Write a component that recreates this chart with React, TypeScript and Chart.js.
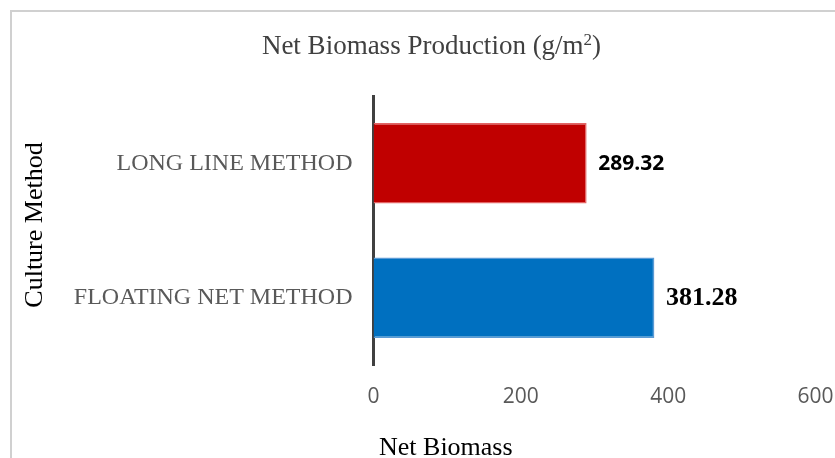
import React, { useEffect, useRef } from "react";
import { Chart, registerables } from "chart.js";

Chart.register(...registerables);

// Culture methods (top to bottom) and their net biomass production in g/m²
const categories = ["LONG LINE METHOD", "FLOATING NET METHOD"];
const netBiomass = [289.32, 381.28];
const xTickValues = [0, 200, 400, 600];

const barFill = ["#c00000", "#0070c0"];
const barEdge = ["#e36464", "#5b9bd5"];
const valueFonts = ['bold 21px "Open Sans"', 'bold 26px "Liberation Serif"'];

const SERIF = '"Liberation Serif", "Times New Roman", serif';

// Writes each bar's value just past the end of the bar
const valueLabelPlugin = {
  id: "valueLabels",
  afterDatasetsDraw(chart: any) {
    const ctx = chart.ctx;
    const meta = chart.getDatasetMeta(0);
    ctx.save();
    ctx.fillStyle = "#000000";
    ctx.textAlign = "left";
    ctx.textBaseline = "middle";
    meta.data.forEach((bar: any, i: number) => {
      ctx.font = valueFonts[i];
      ctx.fillText(netBiomass[i].toFixed(2), bar.x + 11.5, bar.y + 1);
    });
    ctx.restore();
  },
};

// Chart title (with a raised "2" for the unit) and both axis captions
const captionsPlugin = {
  id: "captions",
  afterDraw(chart: any) {
    const ctx = chart.ctx;
    const area = chart.chartArea;
    ctx.save();
    ctx.textBaseline = "alphabetic";

    // title, centred on x = 431.5
    const main = "Net Biomass Production (g/m";
    const sup = "2";
    const close = ")";
    const mainFont = `27px ${SERIF}`;
    const supFont = `17px ${SERIF}`;
    ctx.font = mainFont;
    const wMain = ctx.measureText(main).width;
    const wClose = ctx.measureText(close).width;
    ctx.font = supFont;
    const wSup = ctx.measureText(sup).width;
    const total = wMain + wSup + wClose;
    let x = 431.5 - total / 2;
    const base = 54;
    ctx.fillStyle = "#404040";
    ctx.textAlign = "left";
    ctx.font = mainFont;
    ctx.fillText(main, x, base);
    x += wMain;
    ctx.font = supFont;
    ctx.fillText(sup, x, base - 9);
    x += wSup;
    ctx.font = mainFont;
    ctx.fillText(close, x, base);

    // horizontal axis caption
    ctx.fillStyle = "#000000";
    ctx.font = `26px ${SERIF}`;
    ctx.fillText("Net Biomass", area.left + 5.5, 455);

    // vertical axis caption
    ctx.translate(42, 225);
    ctx.rotate(-Math.PI / 2);
    ctx.textAlign = "center";
    ctx.fillText("Culture Method", 0, 0);
    ctx.restore();
  },
};

export default function App() {
  const canvasRef = useRef<HTMLCanvasElement | null>(null);

  useEffect(() => {
    if (!canvasRef.current) return;
    const chart = new Chart(canvasRef.current, {
      type: "bar",
      data: {
        labels: categories,
        datasets: [
          {
            data: netBiomass,
            backgroundColor: barFill,
            borderColor: barEdge,
            borderWidth: 1.5,
            barPercentage: 0.6,
            categoryPercentage: 1.0,
          },
        ],
      },
      options: {
        indexAxis: "y",
        responsive: false,
        animation: false,
        layout: { padding: { left: 0, right: 19.5, top: 96, bottom: 0 } },
        plugins: {
          legend: { display: false },
          tooltip: { enabled: false },
          title: { display: false },
        },
        scales: {
          x: {
            min: 0,
            max: 600,
            afterBuildTicks(scale: any) {
              scale.ticks = xTickValues.map((v) => ({ value: v }));
            },
            grid: { display: false, drawTicks: false },
            border: { display: false },
            ticks: {
              color: "#595959",
              font: { family: '"Open Sans"', size: 21 },
              padding: 19,
              maxRotation: 0,
            },
            afterFit(scale: any) {
              scale.height = 93;
              scale.paddingLeft = 0;
              scale.paddingRight = 0;
            },
          },
          y: {
            grid: { display: false, drawTicks: false },
            border: { display: true, color: "#404040", width: 3 },
            ticks: {
              color: "#595959",
              font: { family: SERIF, size: 24 },
              padding: 21,
            },
            afterFit(scale: any) {
              scale.width = 373.5;
              scale.paddingTop = 0;
              scale.paddingBottom = 0;
            },
          },
        },
      },
      plugins: [valueLabelPlugin, captionsPlugin],
    } as any);
    return () => chart.destroy();
  }, []);

  return (
    <div
      style={{
        position: "absolute",
        left: 0,
        top: 0,
        width: 835,
        height: 458,
        overflow: "hidden",
        background: "#ffffff",
      }}
    >
      <div
        style={{
          position: "absolute",
          left: 10,
          top: 10,
          width: 870,
          height: 480,
          border: "2px solid #d0d0d0",
          boxSizing: "border-box",
        }}
      />
      <canvas
        ref={canvasRef}
        width={835}
        height={458}
        style={{ position: "absolute", left: 0, top: 0 }}
      />
    </div>
  );
}
